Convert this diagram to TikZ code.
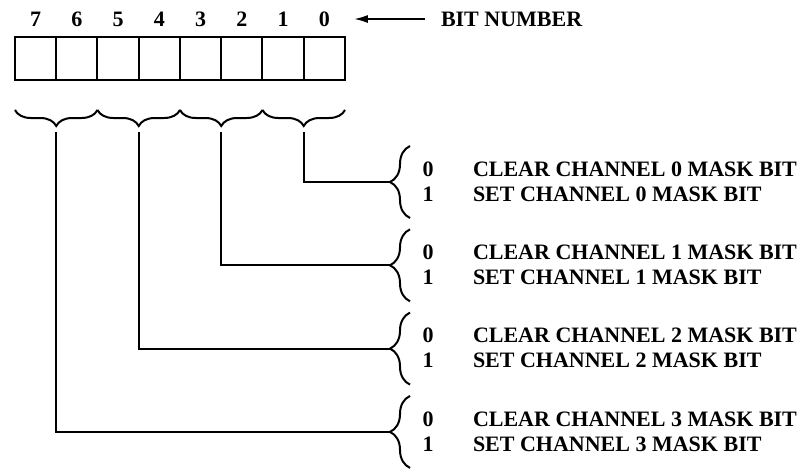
\documentclass[tikz,border=0pt]{standalone}
\usepackage{fontspec}
\setmainfont{Liberation Serif}
\usetikzlibrary{arrows.meta,calc,positioning,decorations.pathreplacing}

\begin{document}
\begin{tikzpicture}[x=0.5pt,y=0.5pt,>={Latex[length=7pt,width=4pt]},line width=1pt,
  cell/.style={draw,minimum width=20.625pt,minimum height=21.5pt,inner sep=0pt,outer sep=0pt},
  txt/.style={font=\bfseries\fontsize{11}{13}\selectfont,inner sep=0pt},
  hbrace/.style={decorate,decoration={brace,mirror,amplitude=8pt}},
  vbrace/.style={decorate,decoration={brace,amplitude=10pt}}]
\useasboundingbox (0,0) rectangle (806,-468);
% register with bit numbers
\foreach \i in {0,...,7}{
  \node[cell] (b\i) at ({35.6+41.25*(7-\i)},-58.5) {};
  \node[txt] (n\i) at ({35.6+41.25*(7-\i)},-19) {\i};
}
\node[txt,anchor=west] (lbl) at (440,-19) {BIT NUMBER};
\draw[->,shorten <=7.5pt,shorten >=11.5pt] (lbl.west) -- (n0.east);
% one field per channel
\foreach \g/\hi/\lo in {0/1/0,1/3/2,2/5/4,3/7/6}{
  \draw[hbrace] ($(b\hi.south west)+(0,-30)$) -- ($(b\lo.south east)+(0,-30)$);
  \coordinate (f\g) at ($(b\hi.south east)+(0,-52)$);
  \pgfmathsetmacro\ty{-182-83.3*\g}
  \draw[vbrace] (410,\ty-36) -- (410,\ty+36);
  \coordinate (t\g) at (390,\ty);
  \node[txt] (z\g) at (428,\ty+13) {0};
  \node[txt,anchor=west] (c\g) at (472,\ty+13) {CLEAR CHANNEL \g{} MASK BIT};
  \node[txt] (o\g) at (428,\ty-12) {1};
  \node[txt,anchor=west] (s\g) at (472,\ty-12) {SET CHANNEL \g{} MASK BIT};
  \draw (f\g) |- (t\g);
}
\end{tikzpicture}
\end{document}
